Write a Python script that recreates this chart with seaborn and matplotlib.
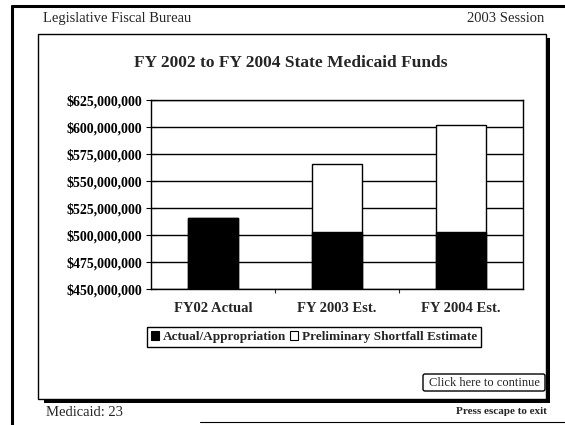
import matplotlib
matplotlib.use("Agg")
import matplotlib.pyplot as plt
from matplotlib.patches import Rectangle, Patch, FancyBboxPatch
from matplotlib.ticker import FuncFormatter, FixedLocator
import seaborn as sns
import pandas as pd

categories = ["FY02 Actual", "FY 2003 Est.", "FY 2004 Est."]
actual = [515.7e6, 502.4e6, 503.0e6]
shortfall = [0.0, 63.5e6, 98.5e6]
series_names = ["Actual/Appropriation", "Preliminary Shortfall Estimate"]
yticks = [450e6, 475e6, 500e6, 525e6, 550e6, 575e6, 600e6, 625e6]

sns.set_style("white")
plt.rcParams["font.family"] = ["Liberation Serif", "DejaVu Serif"]

df = pd.DataFrame({"cat": categories, "actual": actual,
                   "total": [a + s for a, s in zip(actual, shortfall)]})

W, H = 565, 425
fig = plt.figure(figsize=(W / 100, H / 100), dpi=100)
fig.patch.set_facecolor("white")

# background drawing layer in pixel coords
bg = fig.add_axes([0, 0, 1, 1], zorder=0)
bg.set_xlim(0, W)
bg.set_ylim(H, 0)
bg.axis("off")
# outer page frame
bg.plot([12, 12], [6, 425], color="black", lw=2.2)
bg.plot([12, 565], [6, 6], color="black", lw=2.2)
bg.plot([200, 565], [422, 422], color="black", lw=0.8)
# inner box with shadow
bg.add_patch(Rectangle((38, 34), 508, 365, fill=False, ec="black", lw=1.0))
bg.add_patch(Rectangle((546, 38), 4, 365, fc="black", ec="none"))
bg.add_patch(Rectangle((44, 399), 506, 4, fc="black", ec="none"))
# button
bg.add_patch(FancyBboxPatch((423, 374), 122, 17, boxstyle="round,pad=0,rounding_size=2",
                            fill=False, ec="black", lw=1.0))
bg.text(484, 382.5, "Click here to continue", ha="center", va="center", fontsize=9)
bg.text(43, 18, "Legislative Fiscal Bureau", ha="left", va="center", fontsize=10.5)
bg.text(544, 18, "2003 Session", ha="right", va="center", fontsize=10.5)
bg.text(46, 413, "Medicaid: 23", ha="left", va="center", fontsize=10.5)
bg.text(547, 411, "Press escape to exit", ha="right", va="center", fontsize=8, fontweight="bold")
bg.text(291, 63, "FY 2002 to FY 2004 State Medicaid Funds", ha="center", va="center",
        fontsize=12.5, fontweight="bold")

# chart axes
left, right, top, bottom = 151, 523, 100, 289
ax = fig.add_axes([left / W, (H - bottom) / H, (right - left) / W, (bottom - top) / H], zorder=2)
ax.set_facecolor("white")

sns.barplot(data=df, x="cat", y="total", order=categories, color="white",
            edgecolor="black", linewidth=1.0, width=0.41, saturation=1, ax=ax, zorder=3)
sns.barplot(data=df, x="cat", y="actual", order=categories, color="black",
            edgecolor="black", linewidth=1.0, width=0.41, saturation=1, ax=ax, zorder=4)

ax.set_xlim(-0.5, 2.5)
ax.set_ylim(450e6, 625e6)
ax.set_yticks(yticks)
ax.yaxis.set_major_formatter(FuncFormatter(lambda v, p: "${:,.0f}".format(v)))
ax.grid(axis="y", color="black", lw=1.0)
ax.set_axisbelow(True)
for s in ax.spines.values():
    s.set_visible(True)
    s.set_color("black")
    s.set_linewidth(1.0)
ax.set_xlabel("")
ax.set_ylabel("")
ax.tick_params(axis="y", direction="inout", length=7, width=0.8, left=True,
               labelsize=10, pad=3, colors="black")
for lab in ax.get_yticklabels():
    lab.set_fontweight("bold")
ax.tick_params(axis="x", which="major", length=0, pad=9, labelsize=10.5)
for lab in ax.get_xticklabels():
    lab.set_fontweight("bold")
ax.xaxis.set_minor_locator(FixedLocator([0.5, 1.5]))
ax.tick_params(axis="x", which="minor", direction="out", length=3, width=0.8, bottom=True)

handles = [Patch(fc="black", ec="black", lw=0.8), Patch(fc="white", ec="black", lw=0.8)]
leg = fig.legend(handles, series_names, loc="center", bbox_to_anchor=(314 / W, (H - 337) / H),
                 ncol=2, frameon=True, fancybox=False, edgecolor="black", framealpha=1,
                 handlelength=0.6, handleheight=0.6, handletextpad=0.25, columnspacing=0.35,
                 borderpad=0.3, borderaxespad=0, prop={"weight": "bold", "size": 9.5})
leg.get_frame().set_linewidth(1.0)

fig.savefig("out.png", dpi=100, facecolor="white")
